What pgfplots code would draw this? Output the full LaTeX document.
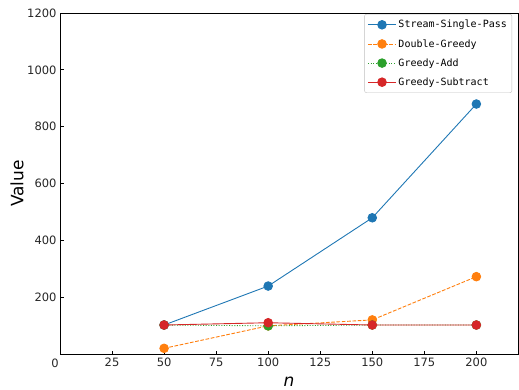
\documentclass[border=0pt]{standalone}
\usepackage{fontspec}
\setmainfont{DejaVu Sans}
\newfontfamily\legendfont{DejaVu Sans Mono}
\usepackage{pgfplots}
\pgfplotsset{compat=1.18}

\definecolor{cblue}{HTML}{1F77B4}
\definecolor{corange}{HTML}{FF7F0E}
\definecolor{cgreen}{HTML}{2CA02C}
\definecolor{cred}{HTML}{D62728}

\begin{document}
\begin{tikzpicture}
\useasboundingbox (-60pt,-34.7pt) rectangle (459pt,354.3pt);
\begin{axis}[
  at={(0,0)}, anchor=south west,
  scale only axis, width=458pt, height=341.3pt,
  xmin=0, xmax=220, ymin=0, ymax=1200,
  xtick={25,50,...,200}, ytick={200,400,...,1200},
  xtick pos=left, ytick pos=left,
  tick align=inside,
  major tick length=3.5pt,
  tick style={black, line width=0.8pt},
  axis line style={black, line width=0.8pt},
  ticklabel style={font=\fontsize{11.5}{13}\selectfont, text=black!85},
  /pgf/number format/assume math mode=true,
  /pgf/number format/1000 sep={},
  xlabel={\fontsize{17}{20}\selectfont\itshape n},
  ylabel={\fontsize{17}{20}\selectfont Value},
  xlabel style={at={(axis description cs:0.5,-0.079)}, anchor=center},
  ylabel style={at={(axis description cs:-0.094,0.5)}, anchor=center},
  clip=false,
  legend style={at={(axis description cs:0.987,0.997)}, anchor=north east,
    font=\legendfont\fontsize{10}{12}\selectfont, draw=black!25,
    rounded corners=2pt, row sep=6pt, inner xsep=3pt, inner ysep=4pt},
  legend cell align=left,
  legend image code/.code={
    \draw[mark repeat=2, mark phase=2] plot coordinates {(0pt,0pt) (14pt,0pt) (28pt,0pt)};
  },
  every axis plot/.append style={line width=0.9pt, mark=*, mark size=4.3pt},
]
\addplot[cblue, mark options={solid, fill=cblue, draw=cblue}] coordinates {
  (50,103) (100,240) (150,480) (200,880)};
\addlegendentry{Stream-Single-Pass}
\addplot[corange, dash pattern=on 3.7pt off 1.6pt, mark options={solid, fill=corange, draw=corange}] coordinates {
  (50,21) (100,100) (150,121) (200,273)};
\addlegendentry{Double-Greedy}
\addplot[cgreen, dash pattern=on 1pt off 1.6pt, mark options={solid, fill=cgreen, draw=cgreen}] coordinates {
  (50,103) (100,100) (150,103) (200,103)};
\addlegendentry{Greedy-Add}
\addplot[cred, mark options={solid, fill=cred, draw=cred}] coordinates {
  (50,103) (100,111) (150,103) (200,103)};
\addlegendentry{Greedy-Subtract}
\node[font=\fontsize{11.5}{13}\selectfont, text=black!85] at (axis cs:0,0) [xshift=-5pt, yshift=-9pt] {0};
\end{axis}
\end{tikzpicture}
\end{document}
